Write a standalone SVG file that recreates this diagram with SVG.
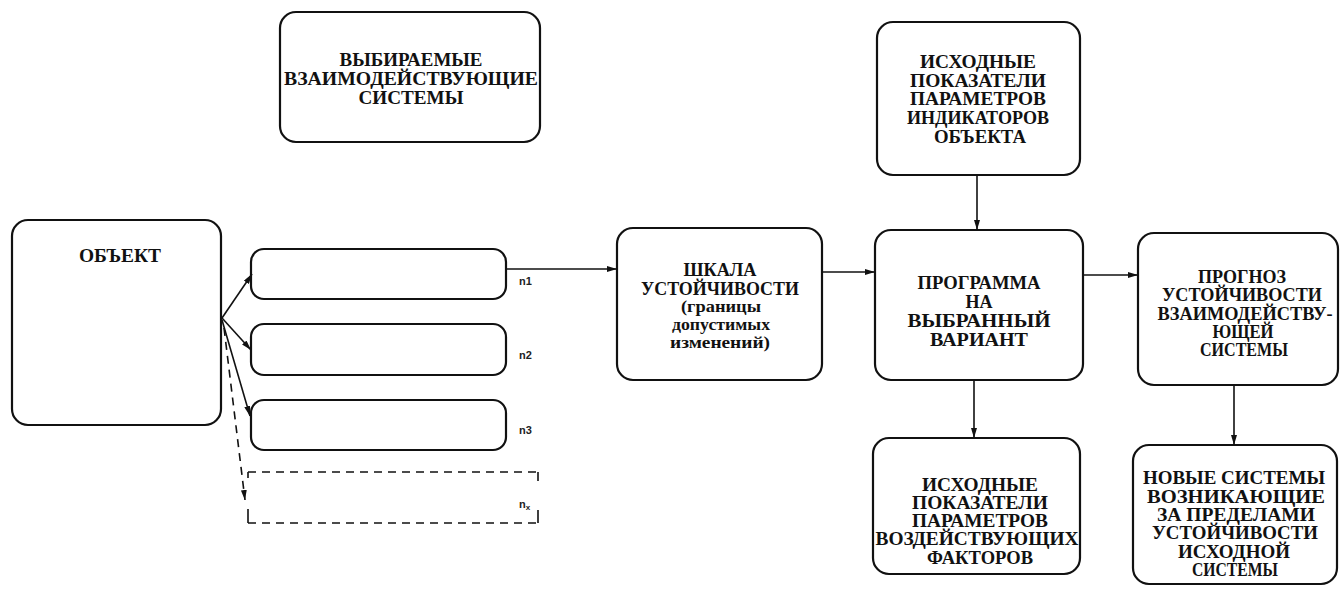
<svg xmlns="http://www.w3.org/2000/svg" width="1342" height="590" viewBox="0 0 1342 590">
<style>
.box{fill:#fff;stroke:#111;stroke-width:2.2}
.t{font-weight:700;font-size:18px;fill:#111;text-anchor:middle}
.s{font-size:16px}
.lbl{font-weight:700;font-size:11px;fill:#222}
.c{fill:none;stroke:#111;stroke-width:1.6}
.d{fill:none;stroke:#111;stroke-width:1.6;stroke-dasharray:8 6}
</style>
<defs>
<marker id="ah" viewBox="0 0 10 6" refX="10" refY="3" markerWidth="10" markerHeight="6" markerUnits="userSpaceOnUse" orient="auto">
<path d="M0,0 L10,3 L0,6 z" fill="#111"/>
</marker>
</defs>
<rect width="1342" height="590" fill="#fff"/>

<g font-family="Liberation Serif, DejaVu Serif, serif">
<g id="node-systems">
<rect class="box" x="280" y="12" width="260" height="130" rx="16"/>
<text class="t" x="411" y="66" textLength="143" lengthAdjust="spacingAndGlyphs">ВЫБИРАЕМЫЕ</text>
<text class="t" x="411" y="85" textLength="254" lengthAdjust="spacingAndGlyphs">ВЗАИМОДЕЙСТВУЮЩИЕ</text>
<text class="t" x="411" y="104" textLength="105" lengthAdjust="spacingAndGlyphs">СИСТЕМЫ</text>
</g>

<g id="node-object">
<rect class="box" x="12" y="220" width="209" height="205" rx="16"/>
<text class="t" x="120" y="262" textLength="82" lengthAdjust="spacingAndGlyphs">ОБЪЕКТ</text>
</g>

<g id="node-n1" font-family="Liberation Sans, DejaVu Sans, sans-serif">
<rect class="box" x="251" y="249" width="255" height="50" rx="13"/>
<text class="lbl" x="519" y="285">n1</text>
</g>
<g id="node-n2" font-family="Liberation Sans, DejaVu Sans, sans-serif">
<rect class="box" x="251" y="324" width="255" height="51" rx="13"/>
<text class="lbl" x="519" y="359">n2</text>
</g>
<g id="node-n3" font-family="Liberation Sans, DejaVu Sans, sans-serif">
<rect class="box" x="251" y="400" width="255" height="50" rx="13"/>
<text class="lbl" x="519" y="434">n3</text>
</g>
<g id="node-nx" font-family="Liberation Sans, DejaVu Sans, sans-serif">
<path class="d" d="M248,472 L538,472 M248,523 L538,523"/>
<path class="c" d="M248,472 L248,478 M538,472 L538,481 M248,509 L248,523 M538,510 L538,523"/>
<text class="lbl" x="519" y="508">n<tspan font-size="8" dy="2">x</tspan></text>
</g>

<g id="node-scale">
<rect class="box" x="617" y="228" width="205" height="152" rx="16"/>
<text class="t" x="720" y="276" textLength="73" lengthAdjust="spacingAndGlyphs">ШКАЛА</text>
<text class="t" x="720" y="295" textLength="158" lengthAdjust="spacingAndGlyphs">УСТОЙЧИВОСТИ</text>
<text class="t s" x="721" y="312" textLength="80" lengthAdjust="spacingAndGlyphs">(границы</text>
<text class="t s" x="721" y="330" textLength="98" lengthAdjust="spacingAndGlyphs">допустимых</text>
<text class="t s" x="720" y="348" textLength="100" lengthAdjust="spacingAndGlyphs">изменений)</text>
</g>

<g id="node-indicators">
<rect class="box" x="877" y="22" width="203" height="153" rx="16"/>
<text class="t" x="978" y="68" textLength="116" lengthAdjust="spacingAndGlyphs">ИСХОДНЫЕ</text>
<text class="t" x="978" y="87" textLength="136" lengthAdjust="spacingAndGlyphs">ПОКАЗАТЕЛИ</text>
<text class="t" x="978" y="105" textLength="136" lengthAdjust="spacingAndGlyphs">ПАРАМЕТРОВ</text>
<text class="t" x="978" y="124" textLength="142" lengthAdjust="spacingAndGlyphs">ИНДИКАТОРОВ</text>
<text class="t" x="980" y="143" textLength="92" lengthAdjust="spacingAndGlyphs">ОБЪЕКТА</text>
</g>

<g id="node-program">
<rect class="box" x="875" y="230" width="208" height="150" rx="16"/>
<text class="t" x="979" y="289" textLength="123" lengthAdjust="spacingAndGlyphs">ПРОГРАММА</text>
<text class="t" x="979" y="308" textLength="27" lengthAdjust="spacingAndGlyphs">НА</text>
<text class="t" x="979" y="327" textLength="143" lengthAdjust="spacingAndGlyphs">ВЫБРАННЫЙ</text>
<text class="t" x="979" y="346" textLength="98" lengthAdjust="spacingAndGlyphs">ВАРИАНТ</text>
</g>

<g id="node-forecast">
<rect class="box" x="1138" y="233" width="200" height="152" rx="16"/>
<text class="t" x="1242" y="283" textLength="88" lengthAdjust="spacingAndGlyphs">ПРОГНОЗ</text>
<text class="t" x="1242" y="301" textLength="160" lengthAdjust="spacingAndGlyphs">УСТОЙЧИВОСТИ</text>
<text class="t" x="1245" y="320" textLength="175" lengthAdjust="spacingAndGlyphs">ВЗАИМОДЕЙСТВУ-</text>
<text class="t" x="1243" y="338" textLength="61" lengthAdjust="spacingAndGlyphs">ЮЩЕЙ</text>
<text class="t" x="1244" y="356" textLength="88" lengthAdjust="spacingAndGlyphs">СИСТЕМЫ</text>
</g>

<g id="node-factors">
<rect class="box" x="873" y="438" width="207" height="136" rx="16"/>
<text class="t" x="980" y="491" textLength="116" lengthAdjust="spacingAndGlyphs">ИСХОДНЫЕ</text>
<text class="t" x="980" y="509" textLength="136" lengthAdjust="spacingAndGlyphs">ПОКАЗАТЕЛИ</text>
<text class="t" x="980" y="527" textLength="136" lengthAdjust="spacingAndGlyphs">ПАРАМЕТРОВ</text>
<text class="t" x="977" y="545" textLength="203" lengthAdjust="spacingAndGlyphs">ВОЗДЕЙСТВУЮЩИХ</text>
<text class="t" x="980" y="564" textLength="106" lengthAdjust="spacingAndGlyphs">ФАКТОРОВ</text>
</g>

<g id="node-new">
<rect class="box" x="1133" y="445" width="204" height="139" rx="16"/>
<text class="t" x="1234" y="484" textLength="182" lengthAdjust="spacingAndGlyphs">НОВЫЕ СИСТЕМЫ</text>
<text class="t" x="1236" y="503" textLength="178" lengthAdjust="spacingAndGlyphs">ВОЗНИКАЮЩИЕ</text>
<text class="t" x="1236" y="521" textLength="158" lengthAdjust="spacingAndGlyphs">ЗА ПРЕДЕЛАМИ</text>
<text class="t" x="1235" y="539" textLength="166" lengthAdjust="spacingAndGlyphs">УСТОЙЧИВОСТИ</text>
<text class="t" x="1234" y="558" textLength="112" lengthAdjust="spacingAndGlyphs">ИСХОДНОЙ</text>
<text class="t" x="1235" y="576" textLength="86" lengthAdjust="spacingAndGlyphs">СИСТЕМЫ</text>
</g>
</g>

<g id="connectors">
<path class="c" d="M222,318 L252,274" marker-end="url(#ah)"/>
<path class="c" d="M222,318 L251,350" marker-end="url(#ah)"/>
<path class="c" d="M222,320 L250,416" marker-end="url(#ah)"/>
<path class="d" d="M224,328 L245,500" marker-end="url(#ah)"/>
<path class="c" d="M506,269 L617,269" marker-end="url(#ah)"/>
<path class="c" d="M822,272 L875,272" marker-end="url(#ah)"/>
<path class="c" d="M1083,275 L1138,275" marker-end="url(#ah)"/>
<path class="c" d="M977,175 L977,230" marker-end="url(#ah)"/>
<path class="c" d="M974,380 L974,438" marker-end="url(#ah)"/>
<path class="c" d="M1234,385 L1234,445" marker-end="url(#ah)"/>
</g>
</svg>
